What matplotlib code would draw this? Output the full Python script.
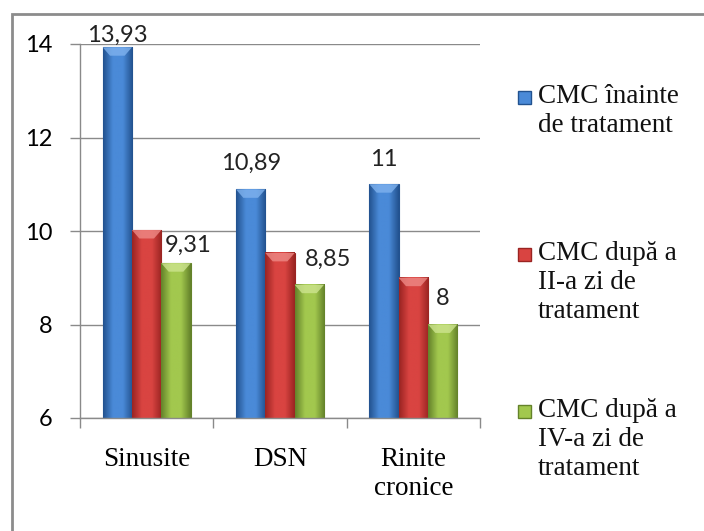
import numpy as np
import matplotlib.pyplot as plt
from matplotlib.colors import LinearSegmentedColormap
from matplotlib.patches import Rectangle, Polygon

# ── data ──────────────────────────────────────────────────────────────────────
categories = ["Sinusite", "DSN", "Rinite\ncronice"]
series_names = ["CMC înainte\nde tratament",
                "CMC după a\nII-a zi de\ntratament",
                "CMC după a\nIV-a zi de\ntratament"]
before = [13.93, 10.89, 11.0]
day2 = [10.02, 9.53, 9.0]
day4 = [9.31, 8.85, 8.0]
labels_before = ["13,93", "10,89", "11"]
labels_day4 = ["9,31", "8,85", "8"]
yticks = [6, 8, 10, 12, 14]

# ── style ─────────────────────────────────────────────────────────────────────
# (dark edge, light centre, top bevel) per series
palette = [("#22528f", "#4a8ad8", "#7fb2ee"),
           ("#9a2422", "#d94441", "#ee8a86"),
           ("#64822a", "#a2c84e", "#cde48f")]
SANS = ["Lato", "DejaVu Sans"]
SERIF = ["Liberation Serif", "DejaVu Serif"]
GRID = "#8a8a8a"

W, H = 704, 531
fig = plt.figure(figsize=(W / 100, H / 100), dpi=100)
ax = fig.add_axes([80 / W, 1 - 418 / H, 400 / W, 374 / H])

x = np.arange(1, len(categories) + 1)
bw = 0.22
ymin, ymax = 6, 14

for i, vals in enumerate([before, day2, day4]):
    dark, light, bevel = palette[i]
    cmap = LinearSegmentedColormap.from_list(f"s{i}", [dark, light, light, dark])
    bars = ax.bar(x + (i - 1) * bw, np.array(vals) - ymin, bw, bottom=ymin,
                  color=light, edgecolor=dark, linewidth=0.8, zorder=2)
    grad = np.linspace(0, 1, 64).reshape(1, -1)
    for b in bars:
        x0, y0 = b.get_x(), b.get_y()
        x1, y1 = x0 + b.get_width(), y0 + b.get_height()
        ax.imshow(grad, cmap=cmap, extent=[x0, x1, y0, y1], aspect="auto",
                  zorder=2.1, interpolation="bilinear")
        inset = b.get_width() * 0.25
        ax.add_patch(Polygon([(x0, y1), (x1, y1), (x1 - inset, y1 - 0.18),
                              (x0 + inset, y1 - 0.18)], closed=True,
                             facecolor=bevel, edgecolor="none", alpha=0.8,
                             zorder=2.2))

# data labels (blue and green only)
off_before = [(0, 12), (0, 26), (0, 25)]
off_day4 = [(12, 18), (19, 25), (0, 26)]
for xi, v, t, o in zip(x - bw, before, labels_before, off_before):
    ax.annotate(t, (xi, v), xytext=o, textcoords="offset pixels",
                ha="center", va="center", fontsize=17, family=SANS,
                color="#222222", zorder=5)
for xi, v, t, o in zip(x + bw, day4, labels_day4, off_day4):
    ax.annotate(t, (xi, v), xytext=o, textcoords="offset pixels",
                ha="center", va="center", fontsize=17, family=SANS,
                color="#222222", zorder=5)

ax.set_xlim(0.5, len(categories) + 0.5)
ax.set_ylim(ymin, ymax)
ax.set_yticks(yticks)
ax.set_yticklabels([str(t) for t in yticks], family=SANS, fontsize=17)
ax.tick_params(axis="y", length=7, width=1, color=GRID, pad=13)
ax.set_xticks(np.arange(0.5, len(categories) + 1, 1))
ax.set_xticklabels([])
ax.set_xticks(x, minor=True)
ax.set_xticklabels(categories, minor=True, family=SERIF, fontsize=19.5,
                   linespacing=1.2)
ax.tick_params(axis="x", which="major", length=7, width=1, color=GRID)
ax.tick_params(axis="x", which="minor", length=0, pad=21)

ax.grid(axis="y", color=GRID, lw=1, zorder=0)
ax.set_axisbelow(True)
for s in ["top", "right"]:
    ax.spines[s].set_visible(False)
for s in ["left", "bottom"]:
    ax.spines[s].set_color(GRID)
    ax.spines[s].set_linewidth(1)

# ── legend drawn by hand (Excel-style, spread over the height) ──────────────
leg_y = [98, 255, 412]
for (dark, light, bevel), name, yc in zip(palette, series_names, leg_y):
    fig.patches.append(Rectangle((518 / W, 1 - (yc + 6) / H), 13 / W, 13 / H,
                                 transform=fig.transFigure, facecolor=light,
                                 edgecolor=dark, lw=1))
    fig.text(538 / W, 1 - (yc - 14) / H, name, ha="left", va="top",
             family=SERIF, fontsize=19.5, linespacing=1.22, color="#111111")

# outer chart frame (only left/top edges visible in the crop)
fig.patches.append(Rectangle((12 / W, -0.1), 1.2, 1 - 14 / H + 0.1,
                             transform=fig.transFigure, fill=False,
                             edgecolor="#8c8c8c", lw=2))

fig.savefig("out.png", dpi=100)
